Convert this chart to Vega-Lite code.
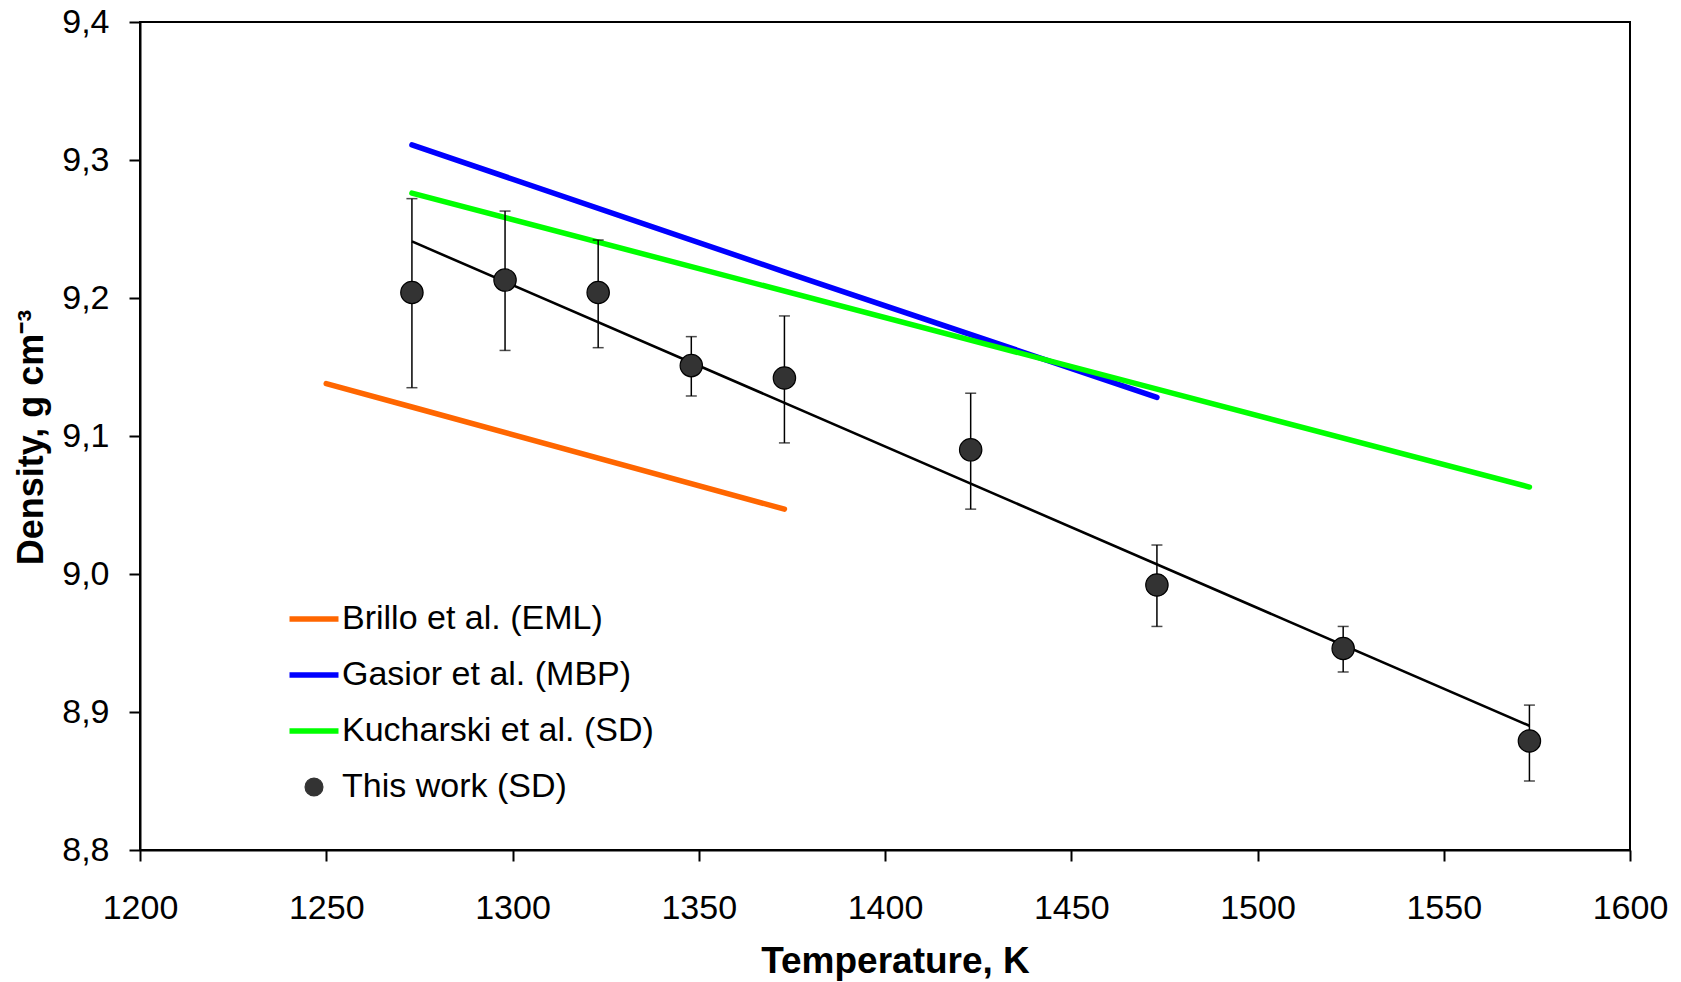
{
  "$schema": "https://vega.github.io/schema/vega-lite/v6.json",
  "width": 1490,
  "height": 828,
  "autosize": {"type": "none"},
  "padding": {"left": 140, "top": 22, "right": 51, "bottom": 132},
  "background": "white",
  "config": {
    "font": "Liberation Sans",
    "view": {"stroke": "black", "strokeWidth": 2},
    "axis": {
      "grid": false,
      "domainColor": "black",
      "domainWidth": 2,
      "tickColor": "black",
      "tickWidth": 2,
      "tickSize": 11,
      "labelColor": "black",
      "labelFontSize": 34,
      "labelFont": "Liberation Sans",
      "titleColor": "black",
      "titleFont": "Liberation Sans",
      "titleFontSize": 36,
      "titleFontWeight": "bold",
      "labelFlush": false,
      "labelOverlap": false,
      "labelBound": false
    }
  },
  "datasets": {
    "lines": [
      {"series": "Brillo et al. (EML)", "T": 1250, "D": 9.138},
      {"series": "Brillo et al. (EML)", "T": 1273, "D": 9.121},
      {"series": "Brillo et al. (EML)", "T": 1373, "D": 9.047},
      {"series": "Gasior et al. (MBP)", "T": 1273, "D": 9.311},
      {"series": "Gasior et al. (MBP)", "T": 1373, "D": 9.219},
      {"series": "Gasior et al. (MBP)", "T": 1473, "D": 9.128},
      {"series": "Kucharski et al. (SD)", "T": 1273, "D": 9.276},
      {"series": "Kucharski et al. (SD)", "T": 1573, "D": 9.063}
    ],
    "fit": [
      {"T": 1273, "D": 9.241},
      {"T": 1573, "D": 8.89}
    ],
    "points": [
      {"series": "This work (SD)", "T": 1273, "D": 9.204, "lo": 9.135, "hi": 9.272},
      {"series": "This work (SD)", "T": 1298, "D": 9.213, "lo": 9.162, "hi": 9.263},
      {"series": "This work (SD)", "T": 1323, "D": 9.204, "lo": 9.164, "hi": 9.242},
      {"series": "This work (SD)", "T": 1348, "D": 9.151, "lo": 9.129, "hi": 9.172},
      {"series": "This work (SD)", "T": 1373, "D": 9.142, "lo": 9.095, "hi": 9.187},
      {"series": "This work (SD)", "T": 1423, "D": 9.09, "lo": 9.047, "hi": 9.131},
      {"series": "This work (SD)", "T": 1473, "D": 8.992, "lo": 8.962, "hi": 9.021},
      {"series": "This work (SD)", "T": 1523, "D": 8.946, "lo": 8.929, "hi": 8.962},
      {"series": "This work (SD)", "T": 1573, "D": 8.879, "lo": 8.85, "hi": 8.905}
    ]
  },
  "layer": [
    {
      "data": {"name": "lines"},
      "mark": {"type": "line", "strokeWidth": 5.5, "strokeCap": "round"},
      "encoding": {
        "x": {
          "field": "T", "type": "quantitative",
          "scale": {"domain": [1200, 1600], "nice": false, "zero": false},
          "axis": {
            "title": "Temperature, K",
            "values": [1200, 1250, 1300, 1350, 1400, 1450, 1500, 1550, 1600],
            "format": "d",
            "labelBaseline": "alphabetic",
            "labelPadding": 57,
            "titleFontSize": 37,
            "titleBaseline": "alphabetic",
            "titleAlign": "center",
            "titleX": 755,
            "titleY": 122
          }
        },
        "y": {
          "field": "D", "type": "quantitative",
          "scale": {"domain": [8.8, 9.4], "nice": false, "zero": false},
          "axis": {
            "title": "Density, g cm⁻³",
            "values": [8.8, 8.9, 9.0, 9.1, 9.2, 9.3, 9.4],
            "labelExpr": "replace(format(datum.value, '.1f'), '.', ',')",
            "labelPadding": 20,
            "titleAngle": -90,
            "titleBaseline": "alphabetic",
            "titleAlign": "center",
            "titleX": -98,
            "titleY": 415
          }
        },
        "color": {
          "field": "series", "type": "nominal",
          "scale": {
            "domain": ["Brillo et al. (EML)", "Gasior et al. (MBP)", "Kucharski et al. (SD)", "This work (SD)"],
            "range": ["#FF6600", "#0000FF", "#00FF00", "#333333"]
          },
          "legend": {
            "title": null,
            "orient": "none",
            "legendX": 157,
            "legendY": 580,
            "labelFontSize": 34,
            "labelFont": "Liberation Sans",
            "labelColor": "black",
            "labelLimit": 0,
            "labelOffset": 11,
            "symbolSize": 2400,
            "rowPadding": 22,
            "symbolType": "stroke",
            "encode": {
              "symbols": {
                "update": {
                  "shape": {"signal": "datum.value === 'This work (SD)' ? 'circle' : 'stroke'"},
                  "size": {"signal": "datum.value === 'This work (SD)' ? 320 : 2400"},
                  "strokeWidth": {"signal": "datum.value === 'This work (SD)' ? 1.2 : 5.5"},
                  "fill": {"signal": "datum.value === 'This work (SD)' ? '#333333' : 'transparent'"},
                  "stroke": {"signal": "datum.value === 'This work (SD)' ? 'black' : scale('color', datum.value)"},
                  "opacity": {"value": 1}
                }
              }
            }
          }
        }
      }
    },
    {
      "data": {"name": "fit"},
      "mark": {"type": "line", "color": "black", "strokeWidth": 2.6},
      "encoding": {
        "x": {"field": "T", "type": "quantitative"},
        "y": {"field": "D", "type": "quantitative"}
      }
    },
    {
      "data": {"name": "points"},
      "mark": {"type": "rule", "color": "black", "strokeWidth": 1.5},
      "encoding": {
        "x": {"field": "T", "type": "quantitative"},
        "y": {"field": "lo", "type": "quantitative"},
        "y2": {"field": "hi"}
      }
    },
    {
      "data": {"name": "points"},
      "mark": {"type": "tick", "orient": "horizontal", "color": "black", "size": 11, "thickness": 1.5},
      "encoding": {
        "x": {"field": "T", "type": "quantitative"},
        "y": {"field": "lo", "type": "quantitative"}
      }
    },
    {
      "data": {"name": "points"},
      "mark": {"type": "tick", "orient": "horizontal", "color": "black", "size": 11, "thickness": 1.5},
      "encoding": {
        "x": {"field": "T", "type": "quantitative"},
        "y": {"field": "hi", "type": "quantitative"}
      }
    },
    {
      "data": {"name": "points"},
      "mark": {"type": "point", "shape": "circle", "filled": true, "size": 500, "stroke": "black", "strokeWidth": 1.2, "opacity": 1},
      "encoding": {
        "x": {"field": "T", "type": "quantitative"},
        "y": {"field": "D", "type": "quantitative"},
        "color": {"field": "series", "type": "nominal"}
      }
    }
  ]
}
